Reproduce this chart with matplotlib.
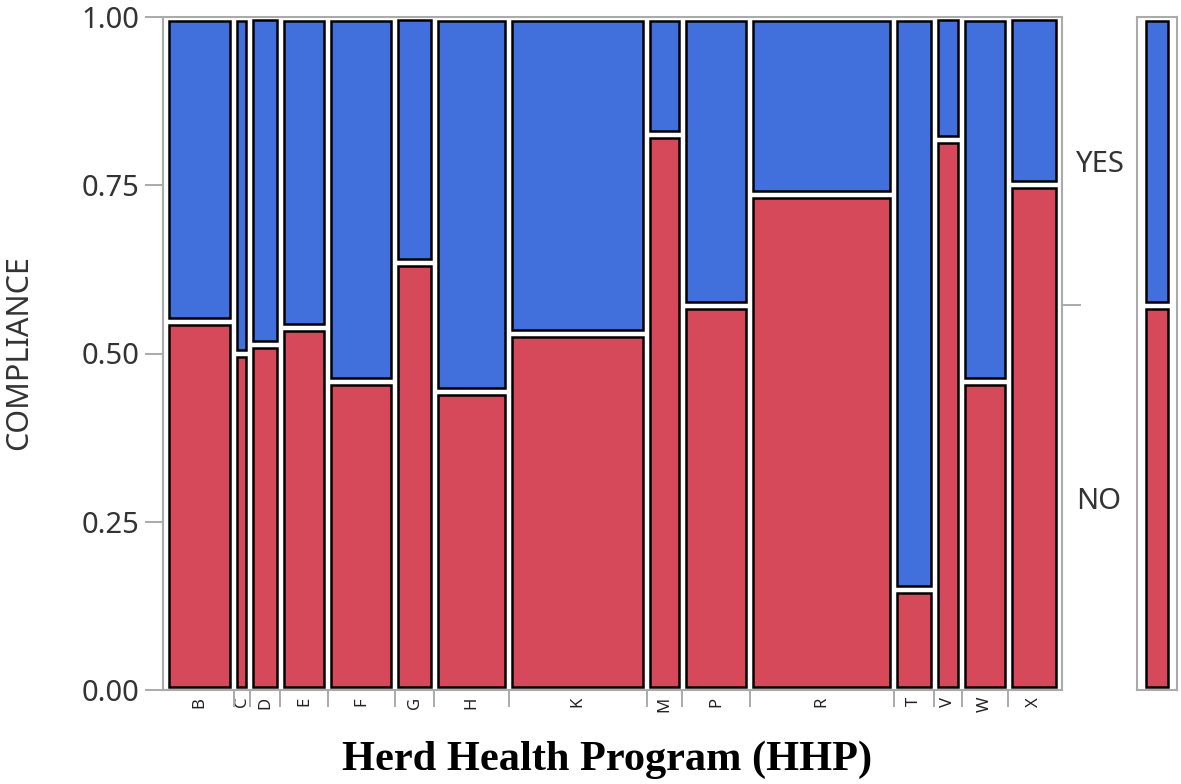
import matplotlib.pyplot as plt
from matplotlib.patches import Rectangle
import numpy as np

# Herd Health Program categories, relative share of herds (column widths)
programs = ["B", "C", "D", "E", "F", "G", "H", "K", "M", "P", "R", "T", "V", "W", "X"]
herd_share = [7.6, 1.8, 3.4, 5.3, 7.5, 4.4, 8.3, 15.4, 4.0, 7.5, 16.1, 4.5, 3.1, 5.2, 5.7]
# proportion with COMPLIANCE = NO (bottom, red); YES is the rest
no_share = [0.547, 0.500, 0.513, 0.538, 0.459, 0.635, 0.443, 0.529, 0.826, 0.572,
            0.736, 0.149, 0.818, 0.459, 0.751]
levels = ["NO", "YES"]

red = "#d6495a"
blue = "#4170dd"
frame = "#aaaaaa"

plt.rcParams["font.family"] = ["Noto Sans", "DejaVu Sans"]

fig = plt.figure(figsize=(11.81, 7.84), dpi=100)
ax = fig.add_axes([163 / 1181, 94 / 784, 899 / 1181, 673 / 784])

w = np.array(herd_share) / np.sum(herd_share)
left = np.concatenate([[0], np.cumsum(w)[:-1]])
p_no = np.array(no_share)

# gaps between cells, in axes units (about 3.5 px each side)
gx = 3.5 / 899
gy = 3.5 / 673
pad = 2.5 / 899

for x0, wi, p in zip(left, w, p_no):
    ax.add_patch(Rectangle((x0 + gx, gy), wi - 2 * gx, p - 2 * gy,
                           facecolor=red, edgecolor="black", lw=1.8))
    ax.add_patch(Rectangle((x0 + gx, p + gy), wi - 2 * gx, 1 - p - 2 * gy,
                           facecolor=blue, edgecolor="black", lw=1.8))

ax.set_xlim(-pad, 1 + pad)
ax.set_ylim(0, 1)

for s in ax.spines.values():
    s.set_color(frame)
    s.set_linewidth(1.5)

ax.set_yticks([0, 0.25, 0.5, 0.75, 1.0])
ax.set_yticklabels(["0.00", "0.25", "0.50", "0.75", "1.00"])
ax.tick_params(axis="y", length=13, width=1.4, color=frame, labelsize=21,
               labelcolor="#333333", pad=4)

ax.set_xticks(left + w / 2)
ax.set_xticklabels(programs, rotation=90, fontsize=12, color="#222222")
ax.set_xticks(np.cumsum(w)[:-1], minor=True)
ax.tick_params(axis="x", which="major", length=0, pad=5)
ax.tick_params(axis="x", which="minor", length=12, width=1.4, color=frame)

# right side: marginal split with level labels
marg_no = np.sum(w * p_no)
ax2 = ax.twinx()
ax2.set_ylim(0, 1)
ax2.set_yticks([marg_no / 2, (1 + marg_no) / 2])
ax2.set_yticklabels(levels)
ax2.set_yticks([marg_no], minor=True)
ax2.tick_params(axis="y", which="major", length=0, pad=10, labelsize=21,
                labelcolor="#333333")
ax2.tick_params(axis="y", which="minor", length=14, width=1.4, color=frame)
for s in ax2.spines.values():
    s.set_visible(False)

# marginal bar
axm = fig.add_axes([1137 / 1181, 94 / 784, 40 / 1181, 673 / 784])
axm.set_xlim(0, 1)
axm.set_ylim(0, 1)
axm.add_patch(Rectangle((0.22, gy), 0.56, marg_no - 2 * gy,
                        facecolor=red, edgecolor="black", lw=1.8))
axm.add_patch(Rectangle((0.22, marg_no + gy), 0.56, 1 - marg_no - 2 * gy,
                        facecolor=blue, edgecolor="black", lw=1.8))
axm.set_xticks([])
axm.set_yticks([])
for s in axm.spines.values():
    s.set_color(frame)
    s.set_linewidth(1.5)

fig.text(19.5 / 1181, (784 - 353) / 784, "COMPLIANCE", rotation=90,
         ha="center", va="center", fontsize=22, color="#333333")
fig.text(607 / 1181, 24 / 784, "Herd Health Program (HHP)", ha="center", va="center",
         fontsize=30.5, fontweight="bold", family=["Liberation Serif", "DejaVu Serif"])

fig.savefig("out.png", dpi=100)
